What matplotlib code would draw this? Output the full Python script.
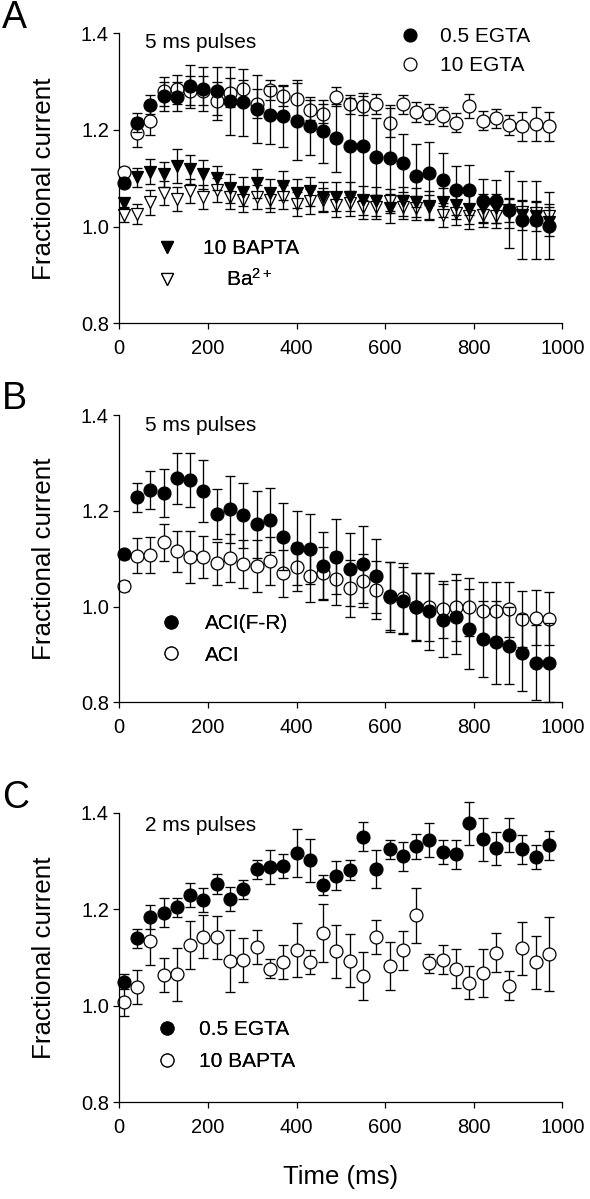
import numpy as np
import matplotlib
matplotlib.use("Agg")
import matplotlib.pyplot as plt

plt.rcParams['font.family'] = ['Liberation Sans', 'DejaVu Sans']
plt.rcParams['mathtext.default'] = 'regular'

# ---------------- data ----------------
time_ms = [10, 40, 70, 100, 130, 160, 190, 220, 250, 280, 310, 340, 370, 400, 430, 460,
           490, 520, 550, 580, 610, 640, 670, 700, 730, 760, 790, 820, 850, 880, 910, 940, 970]

# Panel A (5 ms pulses)
a_egta05 = [1.091, 1.215, 1.252, 1.270, 1.269, 1.290, 1.285, 1.280, 1.260, 1.257, 1.243, 1.231,
            1.229, 1.218, 1.209, 1.197, 1.183, 1.166, 1.166, 1.145, 1.142, 1.131, 1.105, 1.110,
            1.097, 1.075, 1.076, 1.054, 1.052, 1.035, 1.014, 1.014, 1.002]
a_egta05_err = [0.01, 0.02, 0.02, 0.03, 0.03, 0.045, 0.045, 0.05, 0.07, 0.07, 0.07, 0.06, 0.065,
                0.08, 0.06, 0.065, 0.07, 0.10, 0.11, 0.08, 0.11, 0.06, 0.065, 0.065, 0.055, 0.05,
                0.052, 0.045, 0.045, 0.08, 0.08, 0.08, 0.07]
a_egta10 = [1.114, 1.194, 1.219, 1.280, 1.284, 1.281, 1.281, 1.260, 1.277, 1.284, 1.254, 1.283,
            1.270, 1.264, 1.241, 1.234, 1.269, 1.253, 1.250, 1.254, 1.215, 1.253, 1.237, 1.233,
            1.228, 1.215, 1.250, 1.219, 1.224, 1.210, 1.208, 1.212, 1.208]
a_egta10_err = [0.01, 0.03, 0.03, 0.03, 0.03, 0.03, 0.03, 0.04, 0.03, 0.02, 0.03, 0.02, 0.02,
                0.04, 0.02, 0.02, 0.02, 0.02, 0.02, 0.02, 0.03, 0.02, 0.02, 0.02, 0.02, 0.02,
                0.025, 0.02, 0.02, 0.02, 0.03, 0.035, 0.03]
a_bapta10 = [1.049, 1.102, 1.114, 1.108, 1.126, 1.119, 1.108, 1.100, 1.079, 1.072, 1.090, 1.069,
             1.085, 1.069, 1.073, 1.062, 1.062, 1.062, 1.055, 1.052, 1.038, 1.052, 1.050, 1.043,
             1.050, 1.045, 1.036, 1.038, 1.038, 1.028, 1.024, 1.021, 1.010]
a_bapta10_err = [0.01, 0.02, 0.025, 0.025, 0.035, 0.03, 0.03, 0.025, 0.03, 0.03, 0.03, 0.03,
                 0.03, 0.03, 0.03, 0.03, 0.03, 0.03, 0.03, 0.03, 0.03, 0.03, 0.03, 0.03, 0.03,
                 0.03, 0.03, 0.03, 0.03, 0.03, 0.03, 0.03, 0.03]
a_ba = [1.025, 1.026, 1.050, 1.069, 1.058, 1.073, 1.062, 1.076, 1.061, 1.055, 1.062, 1.055,
        1.062, 1.047, 1.052, 1.055, 1.045, 1.048, 1.041, 1.041, 1.053, 1.041, 1.038, 1.040,
        1.024, 1.028, 1.021, 1.024, 1.022, 1.035, 1.031, 1.028, 1.021]
a_ba_err = [0.015, 0.02, 0.025, 0.025, 0.025, 0.025, 0.025, 0.025, 0.025, 0.025, 0.025, 0.025,
            0.025, 0.025, 0.025, 0.025, 0.025, 0.025, 0.025, 0.025, 0.025, 0.025, 0.025, 0.025,
            0.025, 0.025, 0.025, 0.025, 0.025, 0.025, 0.025, 0.025, 0.025]

# Panel B (5 ms pulses)
b_acifr = [1.109, 1.228, 1.244, 1.238, 1.268, 1.264, 1.241, 1.193, 1.203, 1.191, 1.172, 1.181,
           1.146, 1.123, 1.120, 1.085, 1.104, 1.078, 1.088, 1.064, 1.022, 1.012, 1.000, 0.990,
           0.971, 0.978, 0.953, 0.932, 0.925, 0.918, 0.904, 0.883, 0.883]
b_acifr_err = [0.01, 0.03, 0.04, 0.05, 0.053, 0.057, 0.065, 0.052, 0.07, 0.068, 0.07, 0.067,
               0.07, 0.077, 0.073, 0.07, 0.078, 0.076, 0.08, 0.077, 0.07, 0.07, 0.07, 0.08,
               0.077, 0.078, 0.084, 0.08, 0.086, 0.08, 0.081, 0.079, 0.083]
b_aci = [1.043, 1.106, 1.107, 1.134, 1.115, 1.104, 1.104, 1.090, 1.101, 1.088, 1.085, 1.095,
         1.069, 1.083, 1.064, 1.069, 1.058, 1.038, 1.054, 1.035, 1.020, 1.017, 0.999, 0.999,
         0.994, 0.998, 0.999, 0.991, 0.991, 0.994, 0.974, 0.977, 0.975]
b_aci_err = [0.01, 0.037, 0.038, 0.039, 0.043, 0.054, 0.044, 0.045, 0.05, 0.05, 0.054, 0.05,
             0.05, 0.05, 0.055, 0.055, 0.055, 0.06, 0.055, 0.06, 0.074, 0.073, 0.072, 0.072,
             0.06, 0.07, 0.06, 0.06, 0.06, 0.058, 0.059, 0.057, 0.056]

# Panel C (2 ms pulses)
c_egta05 = [1.050, 1.140, 1.184, 1.193, 1.204, 1.229, 1.219, 1.252, 1.222, 1.241, 1.283, 1.288,
            1.289, 1.316, 1.301, 1.250, 1.269, 1.281, 1.350, 1.283, 1.324, 1.310, 1.330, 1.343,
            1.319, 1.314, 1.378, 1.345, 1.326, 1.354, 1.324, 1.309, 1.333]
c_egta05_err = [0.015, 0.02, 0.025, 0.03, 0.02, 0.025, 0.025, 0.02, 0.025, 0.02, 0.02, 0.035,
                0.025, 0.05, 0.045, 0.02, 0.03, 0.02, 0.03, 0.04, 0.02, 0.03, 0.025, 0.035,
                0.025, 0.03, 0.045, 0.045, 0.035, 0.035, 0.03, 0.025, 0.03]
c_bapta10 = [1.008, 1.039, 1.135, 1.064, 1.065, 1.126, 1.143, 1.142, 1.093, 1.095, 1.121, 1.077,
             1.091, 1.115, 1.090, 1.150, 1.113, 1.093, 1.062, 1.143, 1.082, 1.115, 1.188, 1.088,
             1.095, 1.077, 1.048, 1.068, 1.110, 1.041, 1.119, 1.090, 1.107]
c_bapta10_err = [0.03, 0.035, 0.05, 0.035, 0.055, 0.05, 0.045, 0.045, 0.065, 0.045, 0.035, 0.02,
                 0.035, 0.056, 0.025, 0.06, 0.055, 0.055, 0.05, 0.035, 0.05, 0.04, 0.057, 0.02,
                 0.03, 0.04, 0.035, 0.05, 0.04, 0.03, 0.055, 0.055, 0.077]

x_ticks = [0, 200, 400, 600, 800, 1000]
y_ticks = [0.8, 1.0, 1.2, 1.4]

# ---------------- figure ----------------
W, H = 590, 1199
fig = plt.figure(figsize=(W / 100, H / 100), dpi=100)

ax_left_px, ax_right_px = 119.3, 562.3
panel_px = [(33.3, 323.3), (415.0, 702.3), (812.7, 1102.3)]
axes = []
for top, bot in panel_px:
    ax = fig.add_axes([ax_left_px / W, (H - bot) / H, (ax_right_px - ax_left_px) / W,
                       (bot - top) / H])
    axes.append(ax)

TICK_FS = 14.5
LEG_FS = 15
NOTE_FS = 15
MS = 9.3


def style(ax):
    ax.set_xlim(0, 1000)
    ax.set_ylim(0.8, 1.4)
    ax.set_xticks(x_ticks)
    ax.set_yticks(y_ticks)
    ax.set_yticklabels([f"{v:.1f}" for v in y_ticks])
    for s in ('top', 'right'):
        ax.spines[s].set_visible(False)
    for s in ('left', 'bottom'):
        ax.spines[s].set_linewidth(0.9)
    ax.tick_params(direction='out', length=4, width=0.9, labelsize=TICK_FS)
    ax.tick_params(axis='x', pad=7.5)
    ax.tick_params(axis='y', pad=3.5)
    ax.set_ylabel('Fractional current', fontsize=18.7)
    ax.yaxis.set_label_coords(-0.143, 0.5)


def series(ax, y, err, marker, face, z):
    ax.errorbar(time_ms, y, yerr=err, fmt='none', ecolor='black', elinewidth=0.95,
                capsize=3.3, capthick=0.95, zorder=z, clip_on=False)
    line, = ax.plot(time_ms, y, linestyle='none', marker=marker, markersize=MS,
                    markerfacecolor=face, markeredgecolor='black', markeredgewidth=0.9,
                    zorder=z + 0.5, clip_on=False)
    return line


def legend(ax, handles, labels, x0, y0, spacing, pad):
    lg = ax.legend(handles, labels, loc='upper left', bbox_to_anchor=(x0, y0),
                   frameon=False, fontsize=LEG_FS, borderpad=0, borderaxespad=0,
                   handlelength=1.0, handletextpad=pad, labelspacing=spacing,
                   numpoints=1, markerscale=1.0)
    ax.add_artist(lg)
    return lg


# Panel A
ax = axes[0]
style(ax)
h_ba = series(ax, a_ba, a_ba_err, 'v', 'white', 2)
h_bapta = series(ax, a_bapta10, a_bapta10_err, 'v', 'black', 3)
h_e10 = series(ax, a_egta10, a_egta10_err, 'o', 'white', 4)
h_e05 = series(ax, a_egta05, a_egta05_err, 'o', 'black', 5)
ax.text(0.058, 0.967, '5 ms pulses', transform=ax.transAxes, fontsize=NOTE_FS, va='center')
legend(ax, [h_e05, h_e10], ['0.5 EGTA', '10 EGTA'], 0.6325, 1.020, 0.46, 0.95)
legend(ax, [h_bapta, h_ba], ['10 BAPTA', '    Ba$^{2+}$'], 0.085, 0.289, 0.46, 1.2)

# Panel B
ax = axes[1]
style(ax)
h_aci = series(ax, b_aci, b_aci_err, 'o', 'white', 2)
h_acifr = series(ax, b_acifr, b_acifr_err, 'o', 'black', 3)
ax.text(0.058, 0.962, '5 ms pulses', transform=ax.transAxes, fontsize=NOTE_FS, va='center')
legend(ax, [h_acifr, h_aci], ['ACI(F-R)', 'ACI'], 0.0935, 0.308, 0.62, 1.14)

# Panel C
ax = axes[2]
style(ax)
h_cb = series(ax, c_bapta10, c_bapta10_err, 'o', 'white', 2)
h_ce = series(ax, c_egta05, c_egta05_err, 'o', 'black', 3)
ax.text(0.058, 0.957, '2 ms pulses', transform=ax.transAxes, fontsize=NOTE_FS, va='center')
legend(ax, [h_ce, h_cb], ['0.5 EGTA', '10 BAPTA'], 0.085, 0.2825, 0.62, 1.03)
ax.set_xlabel('Time (ms)', fontsize=18.5)
ax.xaxis.set_label_coords(0.5, -0.215)

# Panel letters
for letter, ytop in (('A', 0.0), ('B', 381.0), ('C', 780.0)):
    fig.text(0.004, 1 - ytop / H, letter, fontsize=27, va='top', ha='left')

fig.savefig('out.png', dpi=100)
